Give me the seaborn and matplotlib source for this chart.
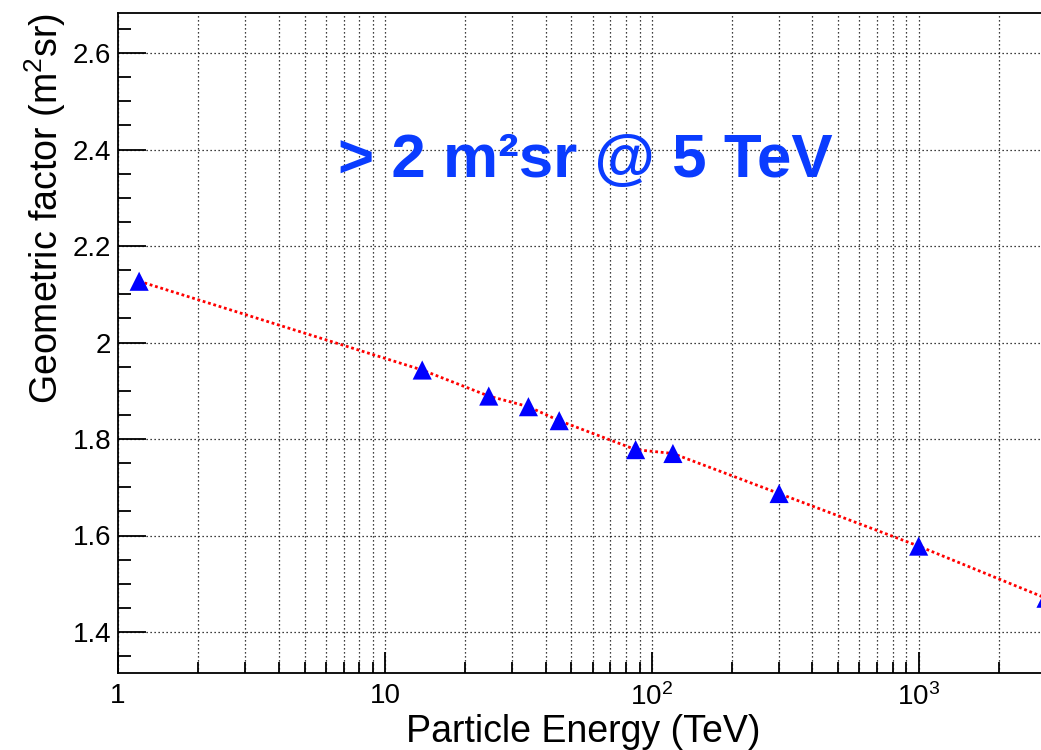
import numpy as np
import pandas as pd
import seaborn as sns
import matplotlib
matplotlib.use("Agg")
import matplotlib.pyplot as plt
from matplotlib.ticker import LogLocator, MultipleLocator, FixedLocator, FuncFormatter, NullFormatter

# Geometric factor versus particle energy
energy_tev = [1.2, 13.8, 24.5, 34.5, 45, 87, 120, 300, 1000, 3000]
geo_factor = [2.127, 1.943, 1.889, 1.867, 1.838, 1.778, 1.770, 1.687, 1.578, 1.470]

x_major = [1, 10, 100, 1000]
x_major_labels = ["1", "10", "$10^{2}$", "$10^{3}$"]
y_major = [1.4, 1.6, 1.8, 2.0, 2.2, 2.4, 2.6]

annotation = "> 2 m\u00b2sr @ 5 TeV"

df = pd.DataFrame({"energy": energy_tev, "gf": geo_factor})

sns.set_theme(style="white")
plt.rcParams["font.family"] = ["Liberation Sans", "DejaVu Sans"]
plt.rcParams["mathtext.fontset"] = "custom"
plt.rcParams["mathtext.rm"] = "Liberation Sans"
plt.rcParams["mathtext.it"] = "Liberation Sans:italic"
plt.rcParams["mathtext.bf"] = "Liberation Sans:bold"

W, H = 1041, 750
fig = plt.figure(figsize=(W / 100, H / 100), dpi=100)
fig.patch.set_facecolor("white")

# frame in pixel units (right edge runs slightly past the canvas)
left, right, top, bottom = 118, 1046, 13, 673
ax = fig.add_axes([left / W, 1 - bottom / H, (right - left) / W, (bottom - top) / H])
ax.set_facecolor("white")

ax.set_xscale("log")
ax.set_xlim(1, 3000)
ax.set_ylim(1.315, 2.683)

# dotted grid: every decade sub-tick on x, major ticks on y
grid_kw = dict(color="black", linestyle=(0, (1, 2.2)), linewidth=0.9)
ax.xaxis.set_major_locator(FixedLocator(x_major))
ax.xaxis.set_minor_locator(LogLocator(base=10, subs=np.arange(2, 10)))
ax.xaxis.set_major_formatter(FuncFormatter(lambda v, p: dict(zip(x_major, x_major_labels)).get(round(v), "")))
ax.xaxis.set_minor_formatter(NullFormatter())
ax.yaxis.set_major_locator(FixedLocator(y_major))
ax.yaxis.set_minor_locator(MultipleLocator(0.05))
ax.yaxis.set_major_formatter(FuncFormatter(lambda v, p: f"{v:g}"))
ax.grid(True, which="both", axis="x", **grid_kw)
ax.grid(True, which="major", axis="y", **grid_kw)
ax.set_axisbelow(True)

sns.lineplot(data=df, x="energy", y="gf", ax=ax, color="#ff0000",
             linestyle=(0, (1, 1)), linewidth=2.0, sort=False, zorder=3)
sns.scatterplot(data=df, x="energy", y="gf", ax=ax, marker="^", s=190,
                color="#0000ff", edgecolor="none", linewidth=0, zorder=4)

ax.tick_params(axis="both", which="both", direction="in", colors="black",
               width=1.3, labelsize=20, bottom=True, left=True, top=False, right=False)
ax.tick_params(axis="y", which="major", length=20, pad=5)
ax.tick_params(axis="y", which="minor", length=9.5)
ax.tick_params(axis="x", which="major", length=15, pad=7)
ax.tick_params(axis="x", which="minor", length=8)

for side in ["left", "bottom", "top"]:
    ax.spines[side].set_visible(True)
    ax.spines[side].set_color("black")
    ax.spines[side].set_linewidth(1.3)
ax.spines["right"].set_visible(False)

ax.set_xlabel("Particle Energy (TeV)", fontsize=27, color="black")
ax.xaxis.set_label_coords(0.501, -0.062)
ax.set_ylabel("Geometric factor (m$^{2}$sr)", fontsize=27, color="black", loc="top")
ax.yaxis.set_label_coords(-0.054, 1.0)

ax.text(338 / W, 1 - 177 / H, annotation, transform=fig.transFigure,
        fontsize=44.6, fontweight="bold", color="#0a3cff", ha="left", va="baseline")

fig.savefig("out.png", dpi=100, facecolor="white")
